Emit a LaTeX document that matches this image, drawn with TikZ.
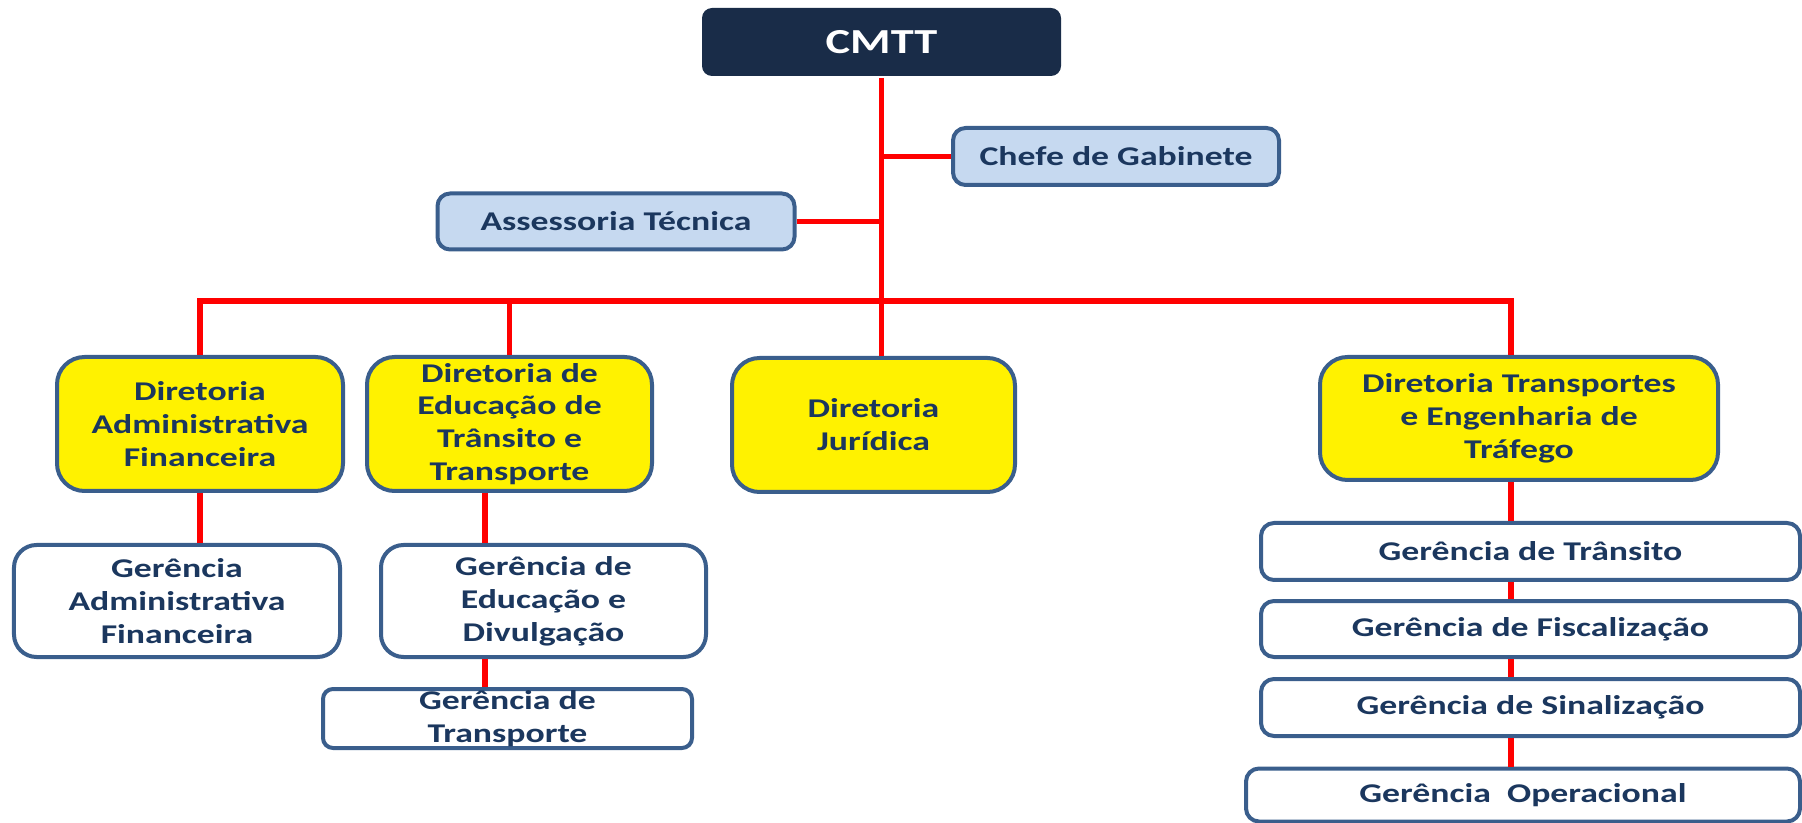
\documentclass[tikz,border=0pt]{standalone}
\usepackage{fontspec}
\setmainfont{Carlito}[FakeStretch=1.32]

\definecolor{navy}{RGB}{25,44,72}
\definecolor{textblue}{RGB}{27,55,94}
\definecolor{edgeblue}{RGB}{58,94,140}
\definecolor{lightblue}{RGB}{198,217,240}

\begin{document}
\begin{tikzpicture}

  \tikzstyle{caixa} = [draw=edgeblue, line width=0.08cm, inner sep=0, align=center, text=textblue, font=\bfseries\fontsize{15.4}{18.7}\selectfont]
  \tikzstyle{diretoria} = [caixa, fill=yellow, rounded corners=0.55cm]
  \tikzstyle{gerencia} = [caixa, fill=white, rounded corners=0.45cm]
  \tikzstyle{setor} = [caixa, fill=white, rounded corners=0.26cm, minimum width=10.78cm, minimum height=1.14cm]
  \tikzstyle{assessor} = [caixa, fill=lightblue, rounded corners=0.25cm]
  \tikzstyle{ligacao} = [red, line width=0.11cm]

  \useasboundingbox (0,0) rectangle (36.04,-16.46);

  \node[caixa, fill=navy, draw=none, rounded corners=0.2cm, text=white, font=\bfseries\fontsize{20}{24}\selectfont, minimum width=7.18cm, minimum height=1.36cm] (cmtt) at (17.63,-0.84) {CMTT};

  \node[assessor, minimum width=6.52cm, minimum height=1.14cm] (chefe) at (22.32,-3.13) {Chefe de Gabinete};
  \node[assessor, minimum width=7.14cm, minimum height=1.12cm] (assess) at (12.32,-4.43) {Assessoria Técnica};

  \node[diretoria, minimum width=5.72cm, minimum height=2.68cm] (daf) at (4.00,-8.48) {Diretoria\\Administrativa\\Financeira};
  \node[diretoria, minimum width=5.70cm, minimum height=2.68cm] (dett) at (10.19,-8.48) {Diretoria de\\Educação de\\Trânsito e\\Transporte};
  \node[diretoria, minimum width=5.66cm, minimum height=2.68cm] (jur) at (17.47,-8.50) {Diretoria\\Jurídica};
  \node[diretoria, minimum width=7.96cm, minimum height=2.46cm] (dtet) at (30.38,-8.37) {Diretoria Transportes\\e Engenharia de\\Tráfego};

  \node[gerencia, minimum width=6.52cm, minimum height=2.24cm] (gaf) at (3.54,-12.02) {Gerência\\Administrativa\\Financeira};
  \node[gerencia, minimum width=6.50cm, minimum height=2.24cm] (ged) at (10.87,-12.02) {Gerência de\\Educação e\\Divulgação};
  \node[gerencia, rounded corners=0.2cm, minimum width=7.38cm, minimum height=1.18cm] (gt) at (10.15,-14.37) {Gerência de\\Transporte};

  \node[setor] (tra) at (30.61,-11.03) {Gerência de Trânsito};
  \node[setor, minimum height=1.12cm] (fis) at (30.61,-12.58) {Gerência de Fiscalização};
  \node[setor] (sin) at (30.61,-14.15) {Gerência de Sinalização};
  \node[setor, minimum width=11.08cm, minimum height=1.06cm] (ope) at (30.46,-15.90) {Gerência~~Operacional};

  \coordinate (barra) at (0,-6.02);
  \coordinate (eixo) at (30.22,0);
  \coordinate (edu) at (9.70,0);

  \draw[ligacao] (cmtt.south) -- (cmtt.south |- jur.north);
  \draw[ligacao] (cmtt.south |- chefe.west) -- (chefe.west);
  \draw[ligacao] (assess.east) -- (cmtt.south |- assess.east);

  \draw[ligacao] (daf.north) |- (barra -| eixo) -- (dtet.north -| eixo);
  \draw[ligacao] (dett.north) -- (dett.north |- barra);

  \draw[ligacao] (daf.south) -- (daf.south |- gaf.north);
  \draw[ligacao] (dett.south -| edu) -- (ged.north -| edu);
  \draw[ligacao] (ged.south -| edu) -- (gt.north -| edu);

  \foreach \a/\b in {dtet/tra, tra/fis, fis/sin, sin/ope}
    \draw[ligacao] (\a.south -| eixo) -- (\b.north -| eixo);

\end{tikzpicture}
\end{document}
